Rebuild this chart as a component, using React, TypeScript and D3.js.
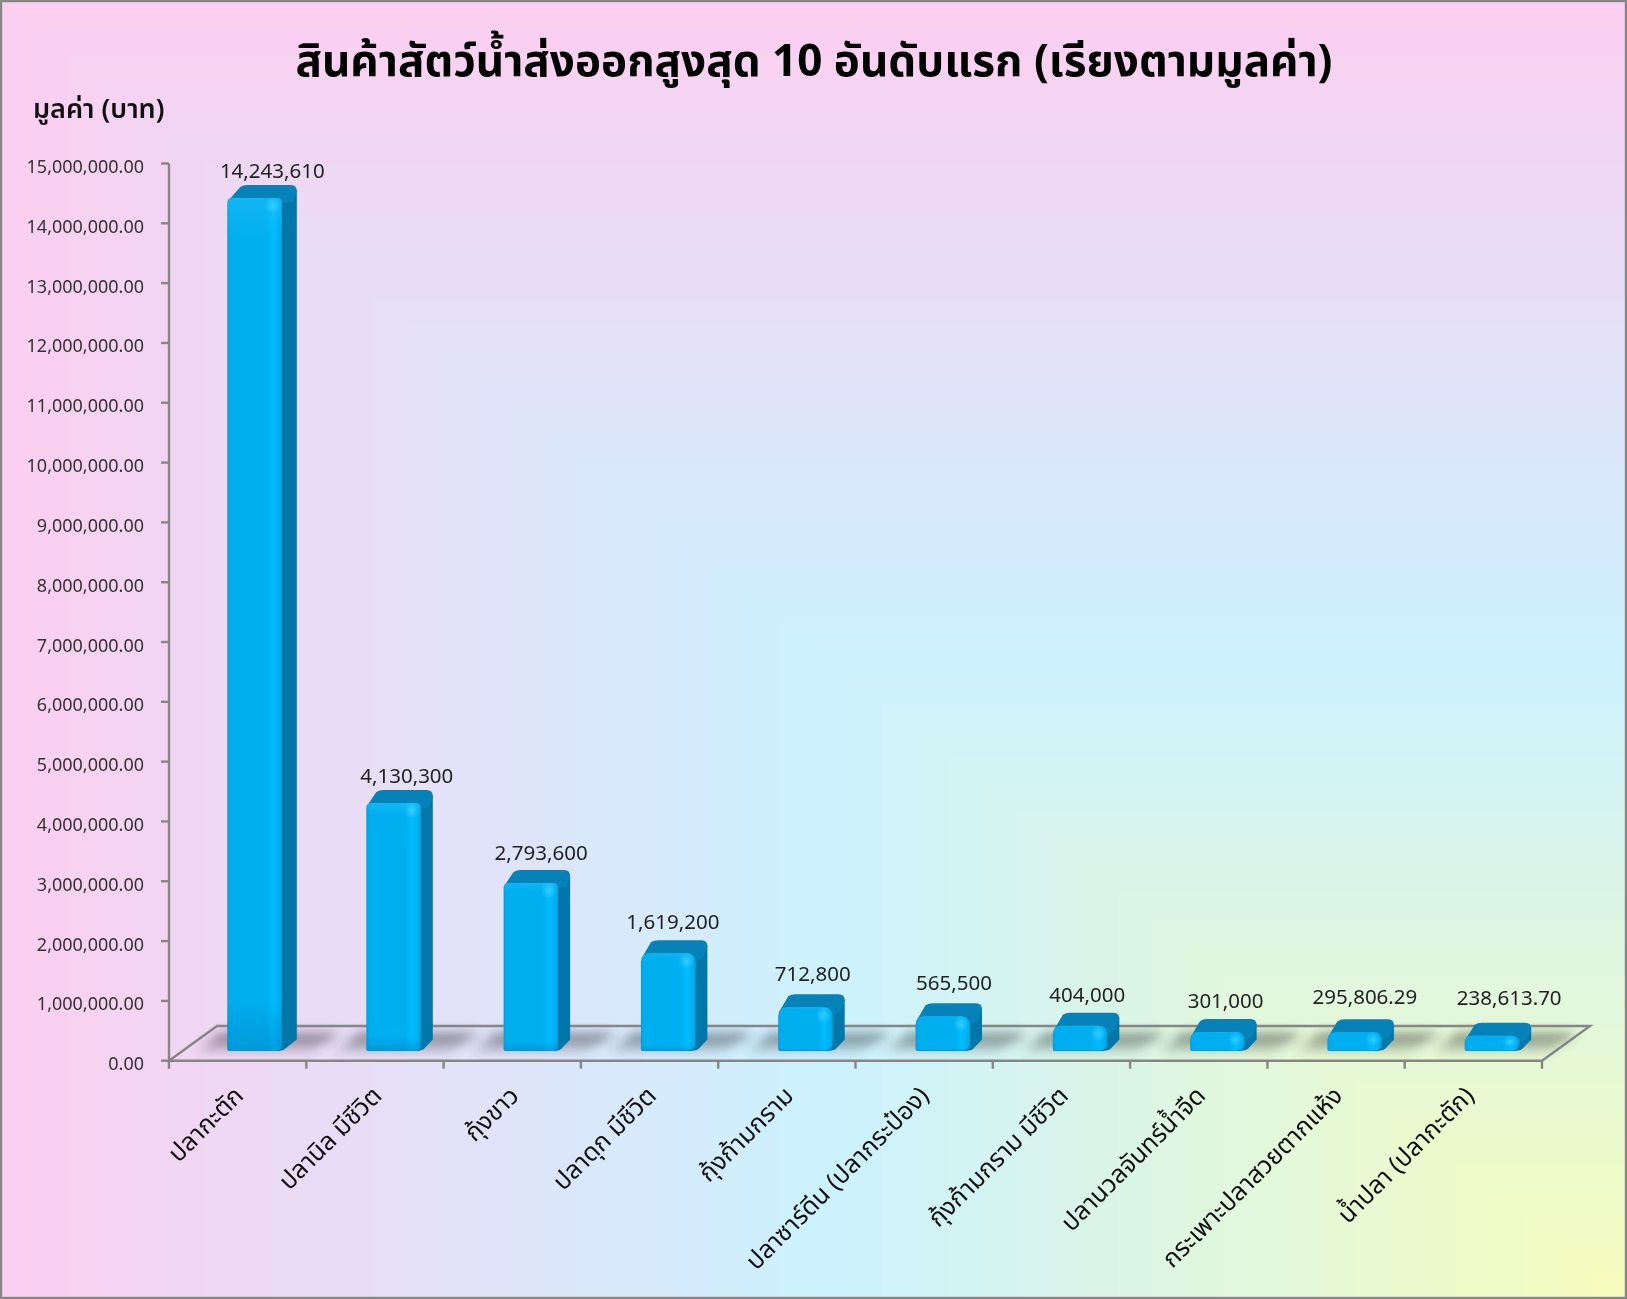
import React from "react";
import * as d3 from "d3";

const categories = ["ปลากะตัก", "ปลานิล มีชีวิต", "กุ้งขาว", "ปลาดุก มีชีวิต", "กุ้งก้ามกราม", "ปลาซาร์ดีน (ปลากระป๋อง)", "กุ้งก้ามกราม มีชีวิต", "ปลานวลจันทร์น้ำจืด", "กระเพาะปลาสวยตากแห้ง", "น้ำปลา (ปลากะตัก)"];
const values = [14243610, 4130300, 2793600, 1619200, 712800, 565500, 404000, 301000, 295806.29, 238613.7];
const valueLabels = ["14,243,610", "4,130,300", "2,793,600", "1,619,200", "712,800", "565,500", "404,000", "301,000", "295,806.29", "238,613.70"];
const yTicks = [0, 1, 2, 3, 4, 5, 6, 7, 8, 9, 10, 11, 12, 13, 14, 15].map((m) => m * 1000000);
const titleText = "สินค้าสัตว์น้ำส่งออกสูงสุด 10 อันดับแรก (เรียงตามมูลค่า)";
const yTitle = "มูลค่า (บาท)";
// manual data-label placement, as in the source chart
const labelDx = [45, 40.5, 37.5, 32, 34.5, 38.5, 34.5, 35.5, 37.5, 44.5];
const labelDy = [-7, -7, -10, -11, -13, -13, -11, -11, -15, -18];
const tickNudge = [-1, 0, 0, 0, 0, -2, 0, 0, 0, -6];

const W = 1627, H = 1299;
const FONT = "'Noto Sans Thai','Noto Sans','Open Sans',sans-serif";
const AX = 169, AXR = 1542, Y0 = 1060.7, YT = 163.5;
const DX = 48, DY = 34.7;
const BW = 54.5, TD = 13, BASE = 10.7;
const GREY = "#868686";

const x = d3.scaleBand<string>().domain(categories).range([AX, AXR]);
const y = d3.scaleLinear().domain([0, 15000000]).range([Y0, YT]);
const bgColor = d3.scaleLinear<string>().domain([0, 0.5, 1]).range(["#fbcff0", "#ccf2ff", "#f7fcba"]);
const bands = d3.range(0, 1, 1 / 48);
const barLeft = (i: number) => (x(categories[i]) as number) + (i === 0 ? 58.3 : 60);

function Bar({ i }: { i: number }) {
  const SD = i === 0 ? 15 : 12;
  const l = barLeft(i);
  const r = l + BW;
  const b = Y0 - BASE + 1;
  const t = y(values[i]) - BASE;
  const h = b - t;
  const rt = Math.min(h / 2.2, h > 100 ? 5 : 9);
  const rb = h > 100 ? 6 : 9;
  const tb = t - TD;
  const top = `M${l + 1},${t + rt * 0.5}L${l + SD - 2},${tb + 2}Q${l + SD + 1},${tb} ${l + SD + 5},${tb}L${r + SD - 6},${tb}Q${r + SD},${tb} ${r + SD},${tb + 6}L${r + SD - 4},${t + 4}L${r},${t + rt}Z`;
  const side = `M${r - rt},${t + 1}L${r + SD},${tb + 5}L${r + SD},${b - 11.5}L${r + 3},${b - 2}Q${r},${b} ${r - rb},${b}Z`;
  const front = `M${l},${t + rt}Q${l},${t} ${l + rt},${t}L${r - rt},${t}Q${r},${t} ${r},${t + rt}L${r},${b - rb}Q${r},${b} ${r - rb},${b}L${l + 2},${b}Q${l},${b} ${l},${b - 2}Z`;
  return (
    <g>
      <path d={side} fill="#0077a8" />
      <path d={top} fill="#0682b8" />
      <path d={front} fill="url(#frontH)" />
      <path d={front} fill="url(#edgeV)" />
      <ellipse cx={r - 9} cy={t + Math.min(8, h / 2.5)} rx={8} ry={Math.min(8, h / 3)} fill="url(#glow)" />
    </g>
  );
}

export default function App() {
  return (
    <svg width={W} height={H} viewBox={`0 0 ${W} ${H}`} style={{ position: "absolute", left: 0, top: 0, display: "block" }} fontFamily={FONT}>
      <defs>
        <linearGradient id="frontH" x1="0" x2="1" y1="0" y2="0">
          <stop offset="0" stopColor="#0a9ad8" />
          <stop offset="0.05" stopColor="#00aeee" />
          <stop offset="0.72" stopColor="#00aff0" />
          <stop offset="0.85" stopColor="#00bcff" />
          <stop offset="1" stopColor="#00a6e6" />
        </linearGradient>
        <linearGradient id="edgeV" x1="0" x2="0" y1="0" y2="1">
          <stop offset="0" stopColor="#3cc8ff" stopOpacity="0.3" />
          <stop offset="0.05" stopColor="#3cc8ff" stopOpacity="0" />
          <stop offset="0.94" stopColor="#0078b8" stopOpacity="0" />
          <stop offset="1" stopColor="#0078b8" stopOpacity="0.4" />
        </linearGradient>
        <linearGradient id="shadowFade" gradientUnits="userSpaceOnUse" x1="0" x2="0" y1={Y0 - BASE - 17} y2={Y0 - BASE + 2}>
          <stop offset="0" stopColor="#404040" stopOpacity="0.62" />
          <stop offset="1" stopColor="#404040" stopOpacity="0.15" />
        </linearGradient>
        <radialGradient id="glow">
          <stop offset="0" stopColor="#40d0ff" stopOpacity="0.8" />
          <stop offset="1" stopColor="#40d0ff" stopOpacity="0" />
        </radialGradient>
        <filter id="shadowBlur" x="-30%" y="-80%" width="160%" height="260%">
          <feGaussianBlur stdDeviation="5.5" />
        </filter>
      </defs>
      <rect width={W} height={H} fill={bgColor(0)} />
      {bands.map((t) => (
        <rect key={t} x={t * W} y={t * H} width={W - t * W} height={H - t * H} fill={bgColor(t)} />
      ))}

      {categories.map((c, i) => {
        const l = barLeft(i);
        const b = Y0 - BASE;
        return (
          <path key={c} filter="url(#shadowBlur)" fill="url(#shadowFade)" style={{ mixBlendMode: "multiply" }}
            d={`M${l - 32},${b + 2}L${l - 8},${b - 17}L${l + BW + 58},${b - 17}L${l + BW + 28},${b + 2}Z`} />
        );
      })}

      <path d={`M${AX},${Y0}L${AX + DX},${Y0 - DY}L${AXR + DX},${Y0 - DY}L${AXR},${Y0}Z`} fill="none" stroke={GREY} strokeWidth={2.4} />
      {categories.map((_, i) => <Bar key={i} i={i} />)}

      <line x1={AX} x2={AX} y1={YT} y2={Y0 + 8} stroke={GREY} strokeWidth={2.4} />
      {yTicks.map((v) => (
        <g key={v}>
          <line x1={AX - 8} x2={AX} y1={y(v)} y2={y(v)} stroke={GREY} strokeWidth={2.4} />
          <text x={144} y={y(v) + 9.5} textAnchor="end" fontSize={18} fill="#333">{d3.format(",.2f")(v)}</text>
        </g>
      ))}
      {categories.map((c) => {
        const xr = (x(c) as number) + x.bandwidth();
        return <line key={c} x1={xr} x2={xr} y1={Y0} y2={Y0 + 8} stroke={GREY} strokeWidth={2.4} />;
      })}

      {categories.map((c, i) => {
        const tx = (x(c) as number) + x.bandwidth() / 2 + tickNudge[i];
        return (
          <text key={c} transform={`translate(${tx + 2},1091) rotate(-45)`} textAnchor="end" dy="0.35em" fontSize={25} fill="#111">{c}</text>
        );
      })}

      {values.map((v, i) => (
        <text key={i} x={barLeft(i) + labelDx[i]} y={y(v) - BASE - TD + labelDy[i]} textAnchor="middle" fontSize={20.5} fill="#222">{valueLabels[i]}</text>
      ))}

      <text x={814} y={76} textAnchor="middle" fontSize={44} fontWeight={700} fill="#000">{titleText}</text>
      <text x={33} y={118} fontSize={27} fontWeight={600} fill="#111">{yTitle}</text>

      <rect x={1} y={1} width={W - 2} height={H - 2} fill="none" stroke={GREY} strokeWidth={2.4} />
    </svg>
  );
}
